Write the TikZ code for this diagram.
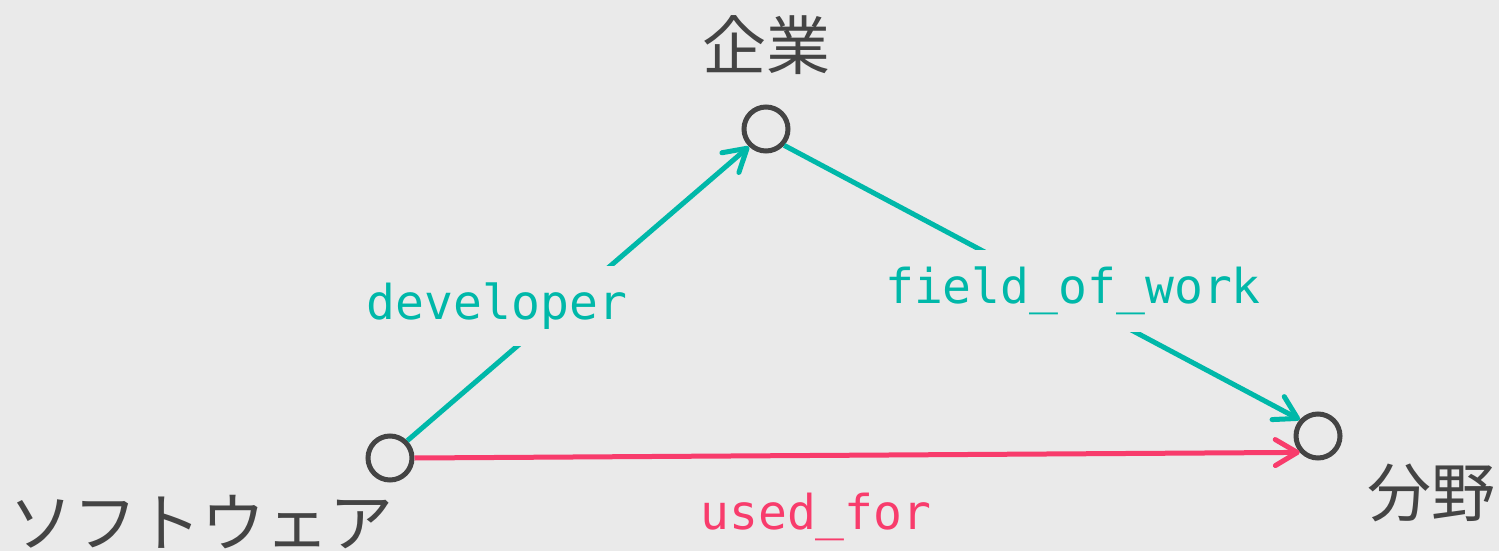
\documentclass[tikz,border=0pt]{standalone}
\usepackage{fontspec}
\setmonofont{DejaVu Sans Mono}
\newfontfamily\cjk{Noto Sans CJK JP}
\usetikzlibrary{positioning, arrows.meta}

\definecolor{bgcol}{HTML}{EAEAEA}
\definecolor{nodegray}{HTML}{444444}
\definecolor{linkteal}{HTML}{00B8A9}
\definecolor{linkred}{HTML}{F83C6C}

\tikzset{
  vertex/.style={circle, draw=nodegray, fill=bgcol, line width=2.5pt, minimum size=22pt, inner sep=0pt},
  vname/.style={text=nodegray, inner sep=0pt, font=\cjk\fontsize{32}{38}\selectfont},
  rel/.style={line width=2.5pt, -{Straight Barb[length=11pt, width=13pt, round]}},
  rellabel/.style={fill=bgcol, inner xsep=2pt, inner ysep=8.5pt, font=\ttfamily\fontsize{24}{28}\selectfont},
}

\begin{document}
\begin{tikzpicture}[x=0.5pt, y=-0.5pt]
  \useasboundingbox[fill=bgcol] (0,0) rectangle (1499,551);

  \node[vertex] (software) at (390,458) {};
  \node[vertex] (company)  at (766,129) {};
  \node[vertex] (field)    at (1318,436) {};

  \node[vname, above=14.5pt of company]             (company name)  {企業};
  \node[vname, below=6pt of software, xshift=-94pt] (software name) {ソフトウェア};
  \node[vname, right=12.5pt of field, yshift=-28.5pt] (field name)  {分野};

  \draw[rel, linkteal] (software.45) -- (company.226);
  \draw[rel, linkteal] (company.318) -- (field.138);
  \draw[rel, linkred]  (software.east) -- (field.222);

  \node[rellabel, text=linkteal] (developer)     at (497,306)  {developer};
  \node[rellabel, text=linkteal] (field of work) at (1073,291) {field\_of\_work};
  \node[rellabel, text=linkred]  (used for)      at (816,517)  {used\_for};

\end{tikzpicture}
\end{document}
